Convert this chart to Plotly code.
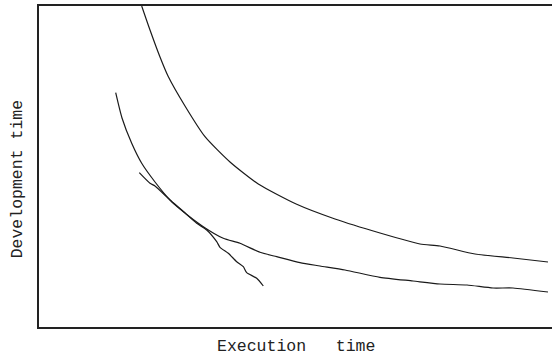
import plotly.graph_objects as go

# Data (arbitrary units: execution time vs development time)
upper_x = [102.7, 111, 121, 129, 146, 166, 191, 219.3, 257.7, 296, 341, 381, 401, 436, 474, 509]
upper_y = [321, 297, 270, 251, 221, 190.3, 165, 143, 122.7, 108, 94, 83, 81, 73, 69, 65]

middle_x = [76.7, 83, 92.7, 102.7, 116, 131, 141, 164.3, 184.3, 201, 221, 237.7, 261, 281, 306, 341, 374, 401, 428, 454, 474, 509]
middle_y = [234.3, 209, 183.7, 163.7, 145, 127, 118, 100.3, 88.7, 83.7, 74.7, 70.3, 64.3, 61, 57, 49.7, 46, 43, 42, 39, 39, 35]

short_x = [100.3, 111, 116, 131, 142.7, 157.7, 167.7, 177.7, 181, 189.3, 197.7, 204.3, 207.7, 217.7, 224.3]
short_y = [154.3, 143.7, 141, 127, 117, 103.7, 97, 85.3, 79.7, 73.7, 65.3, 60.3, 54.3, 48.7, 41]

x_title = "Execution\u00a0\u00a0\u00a0time"
y_title = "Development time"

fig = go.Figure()
for xs, ys in [(upper_x, upper_y), (middle_x, middle_y), (short_x, short_y)]:
    fig.add_trace(go.Scatter(x=xs, y=ys, mode="lines",
                             line=dict(color="#1a1a1a", width=1.2, shape="spline", smoothing=0.6),
                             showlegend=False, hoverinfo="skip"))

font = dict(family="Liberation Mono, Courier New, monospace", size=16.5, color="#222")
fig.update_layout(
    width=552, height=355,
    margin=dict(l=39, r=0, t=6, b=28),
    paper_bgcolor="white", plot_bgcolor="white",
    xaxis=dict(range=[0, 513], showgrid=False, zeroline=False, showticklabels=False,
               ticks="", showline=True, linecolor="#222", linewidth=1.5, mirror=True),
    yaxis=dict(range=[0, 321], showgrid=False, zeroline=False, showticklabels=False,
               ticks="", showline=True, linecolor="#222", linewidth=1.5),
    annotations=[
        dict(text=x_title, xref="paper", yref="paper", x=0.5, y=0, yshift=-19,
             xanchor="center", yanchor="middle", showarrow=False, font=font),
        dict(text=y_title, xref="paper", yref="paper", x=0, xshift=-22, y=0.46,
             xanchor="center", yanchor="middle", showarrow=False, font=font, textangle=-90),
    ],
)
fig.write_html("out.html", config={"displayModeBar": False},
               post_script="document.body.style.margin='0';document.body.style.overflow='hidden';")
